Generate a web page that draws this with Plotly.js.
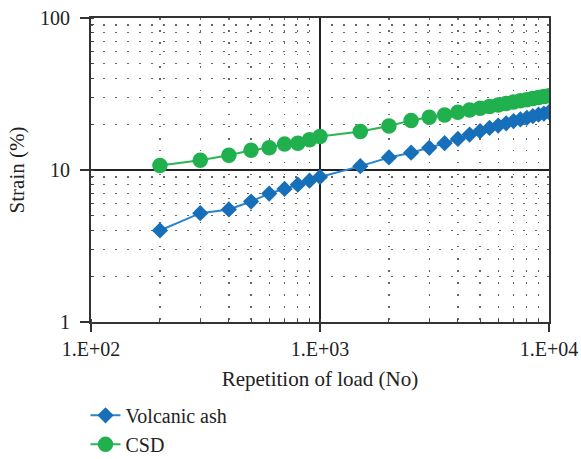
<!DOCTYPE html>
<html>
<head>
<meta charset="utf-8">
<script src="https://cdn.plot.ly/plotly-3.0.1.min.js"></script>
<style>html,body{margin:0;padding:0;background:#fff;overflow:hidden;}#chart{width:581px;height:490px;}</style>
</head>
<body>
<div id="chart"></div>
<script>
const repetitions = [200, 300, 400, 500, 600, 700, 800, 900, 1000, 1500, 2000, 2500, 3000, 3500, 4000, 4500, 5000, 5500, 6000, 6500, 7000, 7500, 8000, 8500, 9000, 9500, 10000];
const volcanicAsh = [4.0, 5.2, 5.5, 6.2, 7.0, 7.5, 8.0, 8.5, 9.0, 10.6, 12.1, 13.0, 14.0, 15.0, 16.0, 17.1, 18.0, 18.9, 19.6, 20.3, 21.0, 21.5, 22.0, 22.6, 23.1, 23.5, 24.0];
const csd = [10.7, 11.6, 12.5, 13.5, 14.0, 14.8, 15.0, 15.8, 16.6, 17.9, 19.5, 21.2, 22.2, 23.0, 24.0, 24.8, 25.5, 26.2, 26.8, 27.4, 28.0, 28.5, 29.0, 29.5, 30.0, 30.4, 30.8];
const xTickVals = [100, 1000, 10000];
const xTickText = ['1.E+02', '1.E+03', '1.E+04'];
const yTickVals = [1, 10, 100];
const yTickText = ['1', '10', '100'];

const font = 'Liberation Serif, Times New Roman, serif';

const traces = [
  {x: repetitions, y: volcanicAsh, name: 'Volcanic ash', type: 'scatter', mode: 'lines+markers',
   line: {color: '#2a85d0', width: 2}, marker: {symbol: 'diamond', size: 12.5, color: '#176fba'}},
  {x: repetitions, y: csd, name: 'CSD', type: 'scatter', mode: 'lines+markers',
   line: {color: '#2cb455', width: 2}, marker: {symbol: 'circle', size: 15.5, color: '#21b04e'}}
];

const minorGrid = {dtick: 'D1', showgrid: true, griddash: '1.5px,10.5px', gridcolor: '#666', gridwidth: 1.3,
                   ticks: 'inside', ticklen: 3, tickcolor: '#444', tickwidth: 1};

const layout = {
  width: 581, height: 490,
  margin: {l: 91, r: 32, t: 18, b: 168},
  paper_bgcolor: '#fff', plot_bgcolor: '#fff',
  font: {family: font, size: 20, color: '#222'},
  showlegend: true,
  legend: {x: -0.012, y: -0.243, xanchor: 'left', yanchor: 'top', orientation: 'v',
           font: {family: font, size: 20, color: '#222'}, bgcolor: 'rgba(0,0,0,0)'},
  xaxis: {type: 'log', range: [2, 4], tickvals: xTickVals, ticktext: xTickText,
          showgrid: true, gridcolor: '#222', gridwidth: 1.3,
          showline: true, linecolor: '#333', linewidth: 2, mirror: true,
          ticks: 'outside', ticklen: 8, tickcolor: '#333', tickwidth: 1.5,
          ticklabelstandoff: 0,
          zeroline: false, minor: minorGrid,
          tickfont: {family: font, size: 20, color: '#222'},
          title: {text: 'Repetition of load (No)', font: {family: font, size: 21, color: '#222'}, standoff: 12}},
  yaxis: {type: 'log', range: [0, 2], tickvals: yTickVals, ticktext: yTickText,
          showgrid: true, gridcolor: '#222', gridwidth: 1.3,
          showline: true, linecolor: '#333', linewidth: 2, mirror: true,
          ticks: 'outside', ticklen: 9, tickcolor: '#333', tickwidth: 1.5,
          ticklabelstandoff: 6,
          zeroline: false, minor: minorGrid,
          tickfont: {family: font, size: 20, color: '#222'},
          title: {text: 'Strain (%)', font: {family: font, size: 21, color: '#222'}, standoff: 10}}
};

Plotly.newPlot('chart', traces, layout, {displayModeBar: false, staticPlot: true});
</script>
</body>
</html>
